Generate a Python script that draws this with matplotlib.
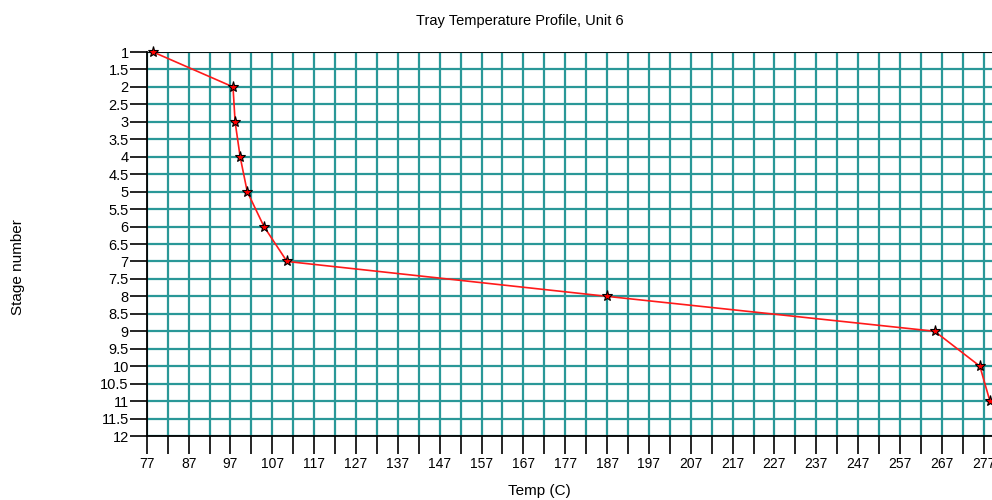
import matplotlib
matplotlib.use("Agg")
import matplotlib.pyplot as plt
from matplotlib.ticker import FixedLocator

stages = [1, 2, 3, 4, 5, 6, 7, 8, 9, 10, 11]
temps = [78.5, 97.6, 98.1, 99.3, 101.0, 105.0, 110.5, 187.0, 265.3, 276.1, 278.5]
x_ticks = list(range(77, 278, 10))
x_minor = list(range(82, 279, 10))
y_ticks = [1 + 0.5 * i for i in range(23)]
y_labels = [("%g" % v) for v in y_ticks]

plt.rcParams['font.family'] = ['Liberation Sans', 'DejaVu Sans']
fig = plt.figure(figsize=(9.92, 5.0), dpi=100)
ax = fig.add_axes([0.148, 0.128, 0.852, 0.768])

ax.plot(temps, stages, color='#ff1a1a', lw=1.2, marker='*', markersize=8,
        markerfacecolor='red', markeredgecolor='black', markeredgewidth=0.8,
        zorder=5, clip_on=False)

ax.set_xlim(77, 279)
ax.set_ylim(12, 1)
ax.xaxis.set_major_locator(FixedLocator(x_ticks))
ax.xaxis.set_minor_locator(FixedLocator(x_minor))
ax.yaxis.set_major_locator(FixedLocator(y_ticks))
ax.set_yticklabels(y_labels)
ax.grid(True, which='both', axis='x', color='#2a9898', lw=1.6)
ax.grid(True, which='major', axis='y', color='#2a9898', lw=1.6)
ax.set_axisbelow(True)
ax.tick_params(axis='x', which='both', direction='out', length=13, width=1.2,
               labelsize=10, pad=2)
ax.tick_params(axis='y', which='major', direction='out', length=12, width=1.2,
               labelsize=10.5, pad=1)
for s in ['top', 'right']:
    ax.spines[s].set_visible(False)
ax.spines['left'].set_linewidth(1.3)
ax.spines['bottom'].set_linewidth(1.3)
ax.axhline(1, color='black', lw=1.3, zorder=3)

fig.text(0.524, 0.958, 'Tray Temperature Profile, Unit 6', ha='center', va='center', fontsize=10.5)
fig.text(0.544, 0.018, 'Temp (C)', ha='center', va='center', fontsize=11)
fig.text(0.018, 0.465, 'Stage number', ha='center', va='center', rotation=90, fontsize=11)

fig.savefig('out.png', dpi=100)
